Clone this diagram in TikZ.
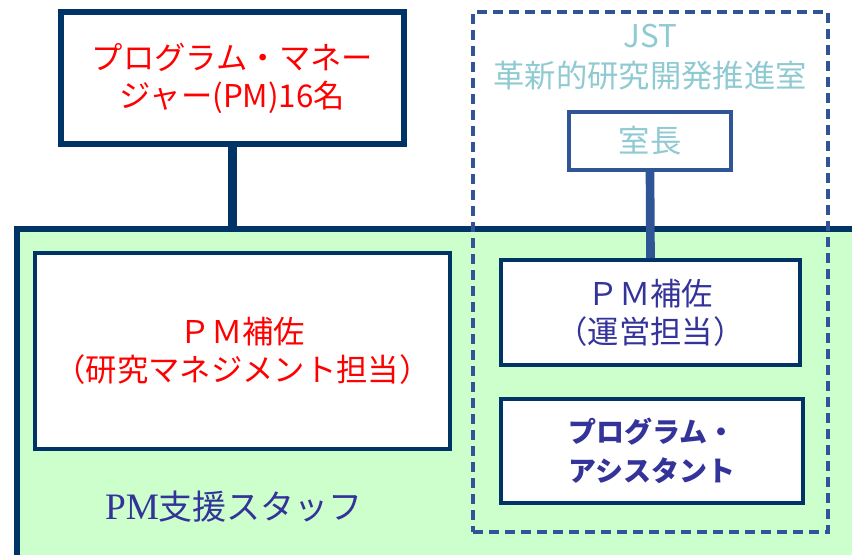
\documentclass[tikz,border=0pt]{standalone}
\usepackage{fontspec}
\setmainfont{Noto Sans CJK JP}
\newfontfamily\latinserif{Liberation Serif}
\definecolor{navy}{HTML}{003366}
\definecolor{steel}{HTML}{2F5597}
\definecolor{tealtxt}{HTML}{8FCAD3}
\definecolor{ink}{HTML}{333399}
\definecolor{mint}{HTML}{CCFFCC}
\definecolor{pmred}{HTML}{FF0000}
\tikzset{
  box/.style={draw=navy, line width=3pt, fill=white, align=center, inner sep=0pt,
    font=\fontsize{23.5}{28.5}\selectfont},
  link/.style={line width=6.5pt},
}
\begin{document}
\begin{tikzpicture}[x=0.75pt,y=-0.75pt]
\useasboundingbox (0,0) rectangle (852,554);
% green staff area
\node[draw=navy, line width=4.5pt, fill=mint, anchor=north west, inner sep=0pt,
  minimum width=860pt, minimum height=300pt] (staff) at (14,226) {};
% dashed JST area
\node[draw=steel, dashed, dash pattern=on 7.5pt off 4.5pt, line width=2.8pt,
  minimum width=266.25pt, minimum height=390pt, inner sep=0pt] (jst) at (650.5,272) {};
\node[text=tealtxt, align=center, font=\fontsize{23.5}{30}\selectfont] (jstlabel) at (650,57)
  {JST\\革新的研究開発推進室};
% top PM box
\node[box, line width=4.5pt, minimum width=257.25pt, minimum height=99pt, text=pmred] (pm) at (232.5,78)
  {プログラム・マネー\\ジャー(PM)16名};
\draw[navy, link] (pm.south) -- (pm.south |- staff.north);
% head box
\node[box, draw=steel, minimum width=121.5pt, minimum height=43.5pt, text=tealtxt] (head) at (650,141) {室長};
% left assistant box
\node[box, minimum width=311.25pt, minimum height=147pt, text=pmred] (rm) at (242.5,351)
  {ＰＭ補佐\\（研究マネジメント担当）};
% ops box
\node[box, minimum width=224.25pt, minimum height=78.75pt, text=ink] (ops) at (650.5,312.5)
  {ＰＭ補佐\\（運営担当）};
\draw[steel, link] (head.south) -- (ops.north);
% program assistant box
\node[box, minimum width=226.5pt, minimum height=78pt, text=ink,
  font=\bfseries\fontsize{21}{29}\selectfont] (pa) at (652,451)
  {プログラム・\\アシスタント};
% staff label
\node[text=ink, font=\fontsize{25.5}{30}\selectfont] (stafflabel) at (234,507)
  {{\latinserif\fontsize{28}{30}\selectfont PM}支援スタッフ};
\end{tikzpicture}
\end{document}
